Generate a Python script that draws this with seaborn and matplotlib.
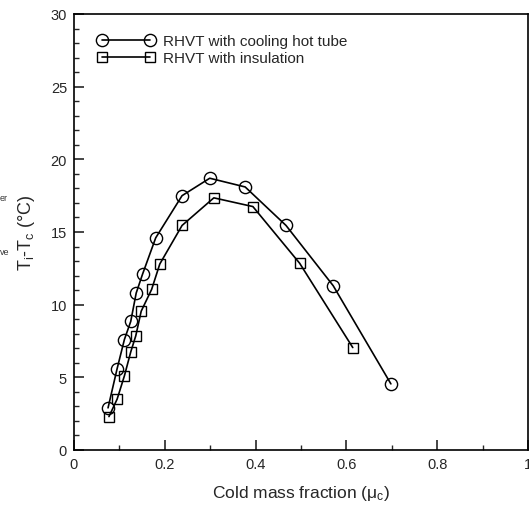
import numpy as np
import pandas as pd
import seaborn as sns
import matplotlib.pyplot as plt
from matplotlib.ticker import MultipleLocator

# valori
mu_cooling = [0.075, 0.095, 0.111, 0.125, 0.137, 0.151, 0.180, 0.238, 0.299, 0.377, 0.467, 0.571, 0.698]
dt_cooling = [2.9, 5.6, 7.6, 8.85, 10.8, 12.1, 14.6, 17.5, 18.7, 18.1, 15.45, 11.3, 4.55]

mu_insul = [0.077, 0.095, 0.111, 0.125, 0.136, 0.148, 0.171, 0.189, 0.238, 0.308, 0.394, 0.497, 0.614]
dt_insul = [2.3, 3.5, 5.1, 6.75, 7.85, 9.55, 11.05, 12.8, 15.45, 17.35, 16.75, 12.85, 7.05]

sns.set_style("ticks")
plt.rcParams['font.family'] = ['Liberation Sans', 'DejaVu Sans']
plt.rcParams['mathtext.fontset'] = 'custom'
plt.rcParams['mathtext.rm'] = 'Liberation Sans'
plt.rcParams['mathtext.it'] = 'Liberation Sans'

fig = plt.figure(figsize=(5.29, 5.06), dpi=100)
ax = fig.add_axes([74 / 529, 55 / 506, 454 / 529, 436 / 506])

df_c = pd.DataFrame({'mu': mu_cooling, 'dt': dt_cooling})
df_i = pd.DataFrame({'mu': mu_insul, 'dt': dt_insul})

sns.lineplot(data=df_c, x='mu', y='dt', ax=ax, color='black', lw=1.2, marker='o',
             markersize=8.8, markerfacecolor='none', markeredgecolor='black', markeredgewidth=1.0,
             label='RHVT with cooling hot tube')
sns.lineplot(data=df_i, x='mu', y='dt', ax=ax, color='black', lw=1.2, marker='s',
             markersize=7.7, markerfacecolor='none', markeredgecolor='black', markeredgewidth=1.0,
             label='RHVT with insulation')

ax.set_xlim(0, 1)
ax.set_ylim(0, 30)
ax.xaxis.set_major_locator(MultipleLocator(0.2))
ax.xaxis.set_minor_locator(MultipleLocator(0.1))
ax.yaxis.set_major_locator(MultipleLocator(5))
ax.yaxis.set_minor_locator(MultipleLocator(1))
ax.set_xticks([0, 0.2, 0.4, 0.6, 0.8, 1.0])
ax.set_xticklabels(['0', '0.2', '0.4', '0.6', '0.8', '1'])
ax.tick_params(which='major', direction='in', length=7, width=1.2, labelsize=10.5, pad=5)
ax.tick_params(which='minor', direction='in', length=3.5, width=1.0)
for s in ax.spines.values():
    s.set_linewidth(1.2)
    s.set_color('black')

ax.set_xlabel(r'Cold mass fraction ($\mu_\mathrm{c}$)', fontsize=12.5, labelpad=9)
ax.set_ylabel(r'T$_\mathrm{i}$-T$_\mathrm{c}$ (°C)', fontsize=13, labelpad=10)

ax.legend(loc='upper left', numpoints=2, frameon=False, fontsize=11,
          handlelength=3.7, handletextpad=0.6, labelspacing=0.2,
          bbox_to_anchor=(0.022, 0.985))

# frammenti di testo della figura accanto (tagliati)
fig.text(0, 1 - 199 / 506, 'er', fontsize=6.5, color='#333333', va='center', ha='left')
fig.text(0, 1 - 253 / 506, 've', fontsize=6.5, color='#333333', va='center', ha='left')

fig.savefig('out.png', dpi=100)
